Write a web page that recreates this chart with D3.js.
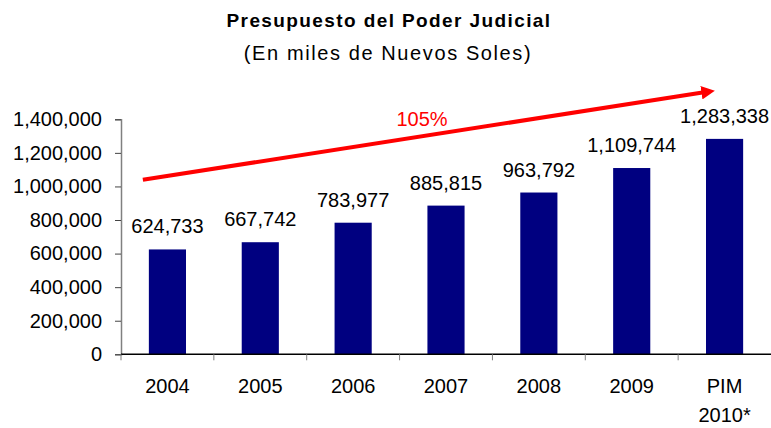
<!DOCTYPE html>
<html><head><meta charset="utf-8">
<script src="https://cdn.jsdelivr.net/npm/d3@7"></script>
<style>body{margin:0;background:#fff}svg{display:block}text{font-family:"Liberation Sans",Arial,sans-serif}</style>
</head><body>
<script>
const categories = ["2004","2005","2006","2007","2008","2009","PIM 2010*"];
const values = [624733, 667742, 783977, 885815, 963792, 1109744, 1283338];
const yTicks = [0,200000,400000,600000,800000,1000000,1200000,1400000];
const title = "Presupuesto del Poder Judicial";
const subtitle = "(En miles de Nuevos Soles)";
const growthLabel = "105%";
const arrowValues = [1040000, 1570000];

const W = 771, H = 428;
const svg = d3.select("body").append("svg").attr("width", W).attr("height", H);
const x = d3.scaleBand().domain(categories).range([121, 771]).paddingInner(0.6).paddingOuter(0.3);
const y = d3.scaleLinear().domain([0, 1400000]).range([354.3, 119.3]);
const fmt = d3.format(",");

svg.append("text").attr("x", 389).attr("y", 27).attr("text-anchor","middle")
  .attr("font-size", 19).attr("font-weight","bold").attr("letter-spacing", 1.4).text(title);
svg.append("text").attr("x", 388).attr("y", 60).attr("text-anchor","middle")
  .attr("font-size", 20).attr("letter-spacing", 1.6).text(subtitle);

// bars
svg.selectAll("rect.bar").data(values).join("rect").attr("class","bar")
  .attr("x", (d,i) => x(categories[i])).attr("width", x.bandwidth())
  .attr("y", d => y(d)).attr("height", d => y(0) - y(d)).attr("fill", "#000080");

svg.selectAll("text.val").data(values).join("text").attr("class","val")
  .attr("x", (d,i) => x(categories[i]) + x.bandwidth()/2).attr("y", d => y(d) - 16)
  .attr("text-anchor","middle").attr("font-size", 20).attr("fill","#000").text(d => fmt(d));

// y axis
const ya = svg.append("g").attr("transform","translate(121,0)")
  .call(d3.axisLeft(y).tickValues(yTicks).tickFormat(fmt).tickSize(6).tickPadding(13));
ya.select(".domain").attr("stroke","#808080").attr("stroke-width",1.5);
ya.selectAll(".tick line").attr("stroke","#444");
ya.selectAll(".tick text").attr("font-size", 20).attr("fill","#000").attr("font-family",'"Liberation Sans",Arial,sans-serif');

// x axis
const xa = svg.append("g").attr("transform", `translate(0,${y(0)})`);
xa.append("line").attr("x1",121).attr("x2",771).attr("y1",0).attr("y2",0).attr("stroke","#000").attr("stroke-width",1.5);
const bounds = categories.map(c => x(c) - x.step()*x.paddingInner()/2 - (c===categories[0] ? x.step()*(x.paddingOuter()-x.paddingInner()/2) : 0));
xa.selectAll("line.tk").data(categories).join("line").attr("class","tk")
  .attr("x1", (c,i) => 121 + i*x.step()).attr("x2",(c,i) => 121 + i*x.step())
  .attr("y1",0).attr("y2",6).attr("stroke","#808080");
categories.forEach(c => {
  const parts = c.split(" ");
  const t = xa.append("text").attr("text-anchor","middle").attr("font-size",20).attr("fill","#000");
  parts.forEach((p,j) => t.append("tspan").attr("x", x(c)+x.bandwidth()/2).attr("y", 39 + j*29).text(p));
});

// growth arrow
const x0 = x(categories[0]) - 6, x1 = x(categories[categories.length-1]) + 8;
const y0 = y(arrowValues[0]), y1 = y(arrowValues[1]);
const defs = svg.append("defs");
defs.append("marker").attr("id","ah").attr("viewBox","0 0 10 10").attr("refX",2).attr("refY",5)
  .attr("markerWidth",3.4).attr("markerHeight",3.4).attr("orient","auto")
  .append("path").attr("d","M0,0 L10,5 L0,10 Z").attr("fill","#ff0000");
const ang = Math.atan2(y1-y0, x1-x0);
svg.append("line").attr("x1",x0).attr("y1",y0)
  .attr("x2", x1 - 10*Math.cos(ang)).attr("y2", y1 - 10*Math.sin(ang))
  .attr("stroke","#ff0000").attr("stroke-width",4).attr("marker-end","url(#ah)");
svg.append("text").attr("x", 422).attr("y", 126).attr("text-anchor","middle")
  .attr("font-size",20).attr("fill","#ff0000").text(growthLabel);
</script>
</body></html>
